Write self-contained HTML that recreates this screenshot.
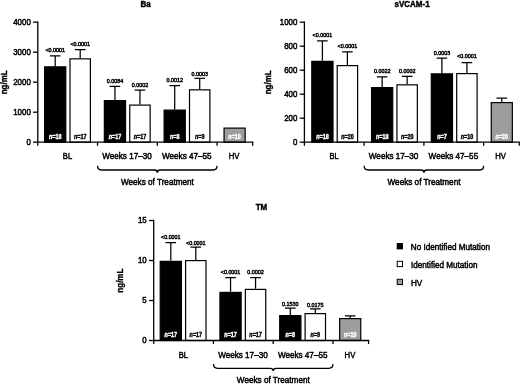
<!DOCTYPE html>
<html lang="en"><head><meta charset="utf-8"><title>Figure</title>
<style>
html,body{margin:0;padding:0;background:#fff;}
body{width:520px;height:384px;overflow:hidden;}
svg{display:block;font-family:"Liberation Sans",Arial,Helvetica,sans-serif;}
</style></head><body>
<svg width="520" height="384" viewBox="0 0 520 384">
<rect width="520" height="384" fill="#fff"/>
<path d="M55.20 66.25V55.75M49.90 55.75H60.50" stroke="#000" stroke-width="1.25" fill="none"/>
<rect x="44.60" y="66.85" width="21.20" height="75.35" fill="#000" stroke="#000" stroke-width="1.2"/>
<text transform="translate(55.20,138.60) scale(0.86,1)" font-size="6.3" text-anchor="middle" font-weight="bold" fill="#fff" stroke="#fff" stroke-width="0.4"><tspan font-style="italic">n</tspan>=18</text>
<text transform="translate(55.20,52.25) scale(0.9,1)" font-size="6.0" text-anchor="middle" font-weight="normal" fill="#000" stroke="#000" stroke-width="0.45">&lt;0.0001</text>
<path d="M80.20 58.25V49.50M74.90 49.50H85.50" stroke="#000" stroke-width="1.25" fill="none"/>
<rect x="70.00" y="58.85" width="20.40" height="83.35" fill="#fff" stroke="#000" stroke-width="1.2"/>
<text transform="translate(80.20,138.60) scale(0.86,1)" font-size="6.3" text-anchor="middle" font-weight="bold" fill="#000" stroke="#000" stroke-width="0.4"><tspan font-style="italic">n</tspan>=17</text>
<text transform="translate(80.20,46.00) scale(0.9,1)" font-size="6.0" text-anchor="middle" font-weight="normal" fill="#000" stroke="#000" stroke-width="0.45">&lt;0.0001</text>
<path d="M114.95 100.00V86.25M109.65 86.25H120.25" stroke="#000" stroke-width="1.25" fill="none"/>
<rect x="104.35" y="100.60" width="21.20" height="41.60" fill="#000" stroke="#000" stroke-width="1.2"/>
<text transform="translate(114.95,138.60) scale(0.86,1)" font-size="6.3" text-anchor="middle" font-weight="bold" fill="#fff" stroke="#fff" stroke-width="0.4"><tspan font-style="italic">n</tspan>=17</text>
<text transform="translate(114.95,82.75) scale(0.9,1)" font-size="6.0" text-anchor="middle" font-weight="normal" fill="#000" stroke="#000" stroke-width="0.45">0.0084</text>
<path d="M139.95 104.50V90.00M134.65 90.00H145.25" stroke="#000" stroke-width="1.25" fill="none"/>
<rect x="129.75" y="105.10" width="20.40" height="37.10" fill="#fff" stroke="#000" stroke-width="1.2"/>
<text transform="translate(139.95,138.60) scale(0.86,1)" font-size="6.3" text-anchor="middle" font-weight="bold" fill="#000" stroke="#000" stroke-width="0.4"><tspan font-style="italic">n</tspan>=17</text>
<text transform="translate(139.95,86.70) scale(0.9,1)" font-size="6.0" text-anchor="middle" font-weight="normal" fill="#000" stroke="#000" stroke-width="0.45">0.0002</text>
<path d="M174.70 109.50V85.50M169.40 85.50H180.00" stroke="#000" stroke-width="1.25" fill="none"/>
<rect x="164.10" y="110.10" width="21.20" height="32.10" fill="#000" stroke="#000" stroke-width="1.2"/>
<text transform="translate(174.70,138.60) scale(0.86,1)" font-size="6.3" text-anchor="middle" font-weight="bold" fill="#fff" stroke="#fff" stroke-width="0.4"><tspan font-style="italic">n</tspan>=8</text>
<text transform="translate(174.70,82.00) scale(0.9,1)" font-size="6.0" text-anchor="middle" font-weight="normal" fill="#000" stroke="#000" stroke-width="0.45">0.0012</text>
<path d="M199.70 89.25V78.25M194.40 78.25H205.00" stroke="#000" stroke-width="1.25" fill="none"/>
<rect x="189.50" y="89.85" width="20.40" height="52.35" fill="#fff" stroke="#000" stroke-width="1.2"/>
<text transform="translate(199.70,138.60) scale(0.86,1)" font-size="6.3" text-anchor="middle" font-weight="bold" fill="#000" stroke="#000" stroke-width="0.4"><tspan font-style="italic">n</tspan>=9</text>
<text transform="translate(199.70,75.55) scale(0.9,1)" font-size="6.0" text-anchor="middle" font-weight="normal" fill="#000" stroke="#000" stroke-width="0.45">0.0003</text>
<rect x="224.05" y="128.10" width="21.10" height="14.10" fill="#9d9d9d" stroke="#000" stroke-width="1.2"/>
<text transform="translate(234.60,138.60) scale(0.86,1)" font-size="6.3" text-anchor="middle" font-weight="bold" fill="#fff" stroke="#fff" stroke-width="0.4"><tspan font-style="italic">n</tspan>=10</text>
<path d="M37.80 21.55V142.20H253.30" stroke="#000" stroke-width="1.3" fill="none"/>
<path d="M33.10 142.20H37.80" stroke="#000" stroke-width="1.3"/>
<text transform="translate(30.80,144.80) scale(0.86,1)" font-size="9.2" text-anchor="end" font-weight="normal" fill="#000" stroke="#000" stroke-width="0.5">0</text>
<path d="M33.10 112.20H37.80" stroke="#000" stroke-width="1.3"/>
<text transform="translate(30.80,114.80) scale(0.86,1)" font-size="9.2" text-anchor="end" font-weight="normal" fill="#000" stroke="#000" stroke-width="0.5">1000</text>
<path d="M33.10 82.20H37.80" stroke="#000" stroke-width="1.3"/>
<text transform="translate(30.80,84.80) scale(0.86,1)" font-size="9.2" text-anchor="end" font-weight="normal" fill="#000" stroke="#000" stroke-width="0.5">2000</text>
<path d="M33.10 52.20H37.80" stroke="#000" stroke-width="1.3"/>
<text transform="translate(30.80,54.80) scale(0.86,1)" font-size="9.2" text-anchor="end" font-weight="normal" fill="#000" stroke="#000" stroke-width="0.5">3000</text>
<path d="M33.10 22.20H37.80" stroke="#000" stroke-width="1.3"/>
<text transform="translate(30.80,24.80) scale(0.86,1)" font-size="9.2" text-anchor="end" font-weight="normal" fill="#000" stroke="#000" stroke-width="0.5">4000</text>
<path d="M37.80 142.20V145.80" stroke="#000" stroke-width="1.3"/>
<path d="M97.55 142.20V145.80" stroke="#000" stroke-width="1.3"/>
<path d="M157.30 142.20V145.80" stroke="#000" stroke-width="1.3"/>
<path d="M217.05 142.20V145.80" stroke="#000" stroke-width="1.3"/>
<path d="M252.65 142.20V145.80" stroke="#000" stroke-width="1.3"/>
<text transform="translate(67.47,159.40) scale(0.82,1)" font-size="9.2" text-anchor="middle" font-weight="normal" fill="#000" stroke="#000" stroke-width="0.5">BL</text>
<text transform="translate(127.02,159.40) scale(0.885,1)" font-size="9.2" text-anchor="middle" font-weight="normal" fill="#000" stroke="#000" stroke-width="0.5">Weeks 17–30</text>
<text transform="translate(186.78,159.40) scale(0.885,1)" font-size="9.2" text-anchor="middle" font-weight="normal" fill="#000" stroke="#000" stroke-width="0.5">Weeks 47–55</text>
<text transform="translate(234.05,159.40) scale(0.84,1)" font-size="9.2" text-anchor="middle" font-weight="normal" fill="#000" stroke="#000" stroke-width="0.5">HV</text>
<path d="M97.55 165.80Q97.55 170.00 101.55 170.00H154.30Q157.30 170.00 157.30 172.80Q157.30 170.00 160.30 170.00H213.05Q217.05 170.00 217.05 165.80" stroke="#000" stroke-width="1.3" fill="none"/>
<text transform="translate(157.40,184.80) scale(0.89,1)" font-size="9.2" text-anchor="middle" font-weight="normal" fill="#000" stroke="#000" stroke-width="0.5">Weeks of Treatment</text>
<text transform="translate(6.70,82.35) rotate(-90) scale(0.85,1)" font-size="9.4" text-anchor="middle" font-weight="bold" fill="#000" stroke="#000" stroke-width="0.35">ng/mL</text>
<text transform="translate(145.50,7.20) scale(0.86,1)" font-size="9.3" text-anchor="middle" font-weight="bold" fill="#000" stroke="#000" stroke-width="0.45">Ba</text>
<path d="M322.40 60.75V40.75M317.10 40.75H327.70" stroke="#000" stroke-width="1.25" fill="none"/>
<rect x="311.80" y="61.35" width="21.20" height="80.85" fill="#000" stroke="#000" stroke-width="1.2"/>
<text transform="translate(322.40,138.60) scale(0.86,1)" font-size="6.3" text-anchor="middle" font-weight="bold" fill="#fff" stroke="#fff" stroke-width="0.4"><tspan font-style="italic">n</tspan>=18</text>
<text transform="translate(322.40,36.85) scale(0.9,1)" font-size="6.0" text-anchor="middle" font-weight="normal" fill="#000" stroke="#000" stroke-width="0.45">&lt;0.0001</text>
<path d="M347.40 65.00V51.75M342.10 51.75H352.70" stroke="#000" stroke-width="1.25" fill="none"/>
<rect x="337.20" y="65.60" width="20.40" height="76.60" fill="#fff" stroke="#000" stroke-width="1.2"/>
<text transform="translate(347.40,138.60) scale(0.86,1)" font-size="6.3" text-anchor="middle" font-weight="bold" fill="#000" stroke="#000" stroke-width="0.4"><tspan font-style="italic">n</tspan>=20</text>
<text transform="translate(347.40,48.25) scale(0.9,1)" font-size="6.0" text-anchor="middle" font-weight="normal" fill="#000" stroke="#000" stroke-width="0.45">&lt;0.0001</text>
<path d="M382.15 87.00V76.75M376.85 76.75H387.45" stroke="#000" stroke-width="1.25" fill="none"/>
<rect x="371.55" y="87.60" width="21.20" height="54.60" fill="#000" stroke="#000" stroke-width="1.2"/>
<text transform="translate(382.15,138.60) scale(0.86,1)" font-size="6.3" text-anchor="middle" font-weight="bold" fill="#fff" stroke="#fff" stroke-width="0.4"><tspan font-style="italic">n</tspan>=18</text>
<text transform="translate(382.15,73.25) scale(0.9,1)" font-size="6.0" text-anchor="middle" font-weight="normal" fill="#000" stroke="#000" stroke-width="0.45">0.0022</text>
<path d="M407.15 84.25V76.25M401.85 76.25H412.45" stroke="#000" stroke-width="1.25" fill="none"/>
<rect x="396.95" y="84.85" width="20.40" height="57.35" fill="#fff" stroke="#000" stroke-width="1.2"/>
<text transform="translate(407.15,138.60) scale(0.86,1)" font-size="6.3" text-anchor="middle" font-weight="bold" fill="#000" stroke="#000" stroke-width="0.4"><tspan font-style="italic">n</tspan>=20</text>
<text transform="translate(407.15,72.75) scale(0.9,1)" font-size="6.0" text-anchor="middle" font-weight="normal" fill="#000" stroke="#000" stroke-width="0.45">0.0002</text>
<path d="M441.90 73.25V58.00M436.60 58.00H447.20" stroke="#000" stroke-width="1.25" fill="none"/>
<rect x="431.30" y="73.85" width="21.20" height="68.35" fill="#000" stroke="#000" stroke-width="1.2"/>
<text transform="translate(441.90,138.60) scale(0.86,1)" font-size="6.3" text-anchor="middle" font-weight="bold" fill="#fff" stroke="#fff" stroke-width="0.4"><tspan font-style="italic">n</tspan>=7</text>
<text transform="translate(441.90,54.50) scale(0.9,1)" font-size="6.0" text-anchor="middle" font-weight="normal" fill="#000" stroke="#000" stroke-width="0.45">0.0003</text>
<path d="M466.90 73.00V62.50M461.60 62.50H472.20" stroke="#000" stroke-width="1.25" fill="none"/>
<rect x="456.70" y="73.60" width="20.40" height="68.60" fill="#fff" stroke="#000" stroke-width="1.2"/>
<text transform="translate(466.90,138.60) scale(0.86,1)" font-size="6.3" text-anchor="middle" font-weight="bold" fill="#000" stroke="#000" stroke-width="0.4"><tspan font-style="italic">n</tspan>=10</text>
<text transform="translate(466.90,58.40) scale(0.9,1)" font-size="6.0" text-anchor="middle" font-weight="normal" fill="#000" stroke="#000" stroke-width="0.45">&lt;0.0001</text>
<path d="M501.80 102.00V98.00M496.50 98.00H507.10" stroke="#000" stroke-width="1.25" fill="none"/>
<rect x="491.25" y="102.60" width="21.10" height="39.60" fill="#9d9d9d" stroke="#000" stroke-width="1.2"/>
<text transform="translate(501.80,138.60) scale(0.86,1)" font-size="6.3" text-anchor="middle" font-weight="bold" fill="#fff" stroke="#fff" stroke-width="0.4"><tspan font-style="italic">n</tspan>=20</text>
<path d="M304.40 21.55V142.20H519.90" stroke="#000" stroke-width="1.3" fill="none"/>
<path d="M299.70 142.20H304.40" stroke="#000" stroke-width="1.3"/>
<text transform="translate(297.40,144.80) scale(0.86,1)" font-size="9.2" text-anchor="end" font-weight="normal" fill="#000" stroke="#000" stroke-width="0.5">0</text>
<path d="M299.70 118.20H304.40" stroke="#000" stroke-width="1.3"/>
<text transform="translate(297.40,120.80) scale(0.86,1)" font-size="9.2" text-anchor="end" font-weight="normal" fill="#000" stroke="#000" stroke-width="0.5">200</text>
<path d="M299.70 94.20H304.40" stroke="#000" stroke-width="1.3"/>
<text transform="translate(297.40,96.80) scale(0.86,1)" font-size="9.2" text-anchor="end" font-weight="normal" fill="#000" stroke="#000" stroke-width="0.5">400</text>
<path d="M299.70 70.20H304.40" stroke="#000" stroke-width="1.3"/>
<text transform="translate(297.40,72.80) scale(0.86,1)" font-size="9.2" text-anchor="end" font-weight="normal" fill="#000" stroke="#000" stroke-width="0.5">600</text>
<path d="M299.70 46.20H304.40" stroke="#000" stroke-width="1.3"/>
<text transform="translate(297.40,48.80) scale(0.86,1)" font-size="9.2" text-anchor="end" font-weight="normal" fill="#000" stroke="#000" stroke-width="0.5">800</text>
<path d="M299.70 22.20H304.40" stroke="#000" stroke-width="1.3"/>
<text transform="translate(297.40,24.80) scale(0.86,1)" font-size="9.2" text-anchor="end" font-weight="normal" fill="#000" stroke="#000" stroke-width="0.5">1000</text>
<path d="M304.40 142.20V145.80" stroke="#000" stroke-width="1.3"/>
<path d="M364.15 142.20V145.80" stroke="#000" stroke-width="1.3"/>
<path d="M423.90 142.20V145.80" stroke="#000" stroke-width="1.3"/>
<path d="M483.65 142.20V145.80" stroke="#000" stroke-width="1.3"/>
<path d="M519.25 142.20V145.80" stroke="#000" stroke-width="1.3"/>
<text transform="translate(334.07,159.40) scale(0.82,1)" font-size="9.2" text-anchor="middle" font-weight="normal" fill="#000" stroke="#000" stroke-width="0.5">BL</text>
<text transform="translate(393.62,159.40) scale(0.885,1)" font-size="9.2" text-anchor="middle" font-weight="normal" fill="#000" stroke="#000" stroke-width="0.5">Weeks 17–30</text>
<text transform="translate(453.38,159.40) scale(0.885,1)" font-size="9.2" text-anchor="middle" font-weight="normal" fill="#000" stroke="#000" stroke-width="0.5">Weeks 47–55</text>
<text transform="translate(500.65,159.40) scale(0.84,1)" font-size="9.2" text-anchor="middle" font-weight="normal" fill="#000" stroke="#000" stroke-width="0.5">HV</text>
<path d="M364.15 165.80Q364.15 170.00 368.15 170.00H420.90Q423.90 170.00 423.90 172.80Q423.90 170.00 426.90 170.00H479.65Q483.65 170.00 483.65 165.80" stroke="#000" stroke-width="1.3" fill="none"/>
<text transform="translate(424.00,184.80) scale(0.89,1)" font-size="9.2" text-anchor="middle" font-weight="normal" fill="#000" stroke="#000" stroke-width="0.5">Weeks of Treatment</text>
<text transform="translate(270.80,82.35) rotate(-90) scale(0.85,1)" font-size="9.4" text-anchor="middle" font-weight="bold" fill="#000" stroke="#000" stroke-width="0.35">ng/mL</text>
<text transform="translate(412.10,7.20) scale(0.86,1)" font-size="9.3" text-anchor="middle" font-weight="bold" fill="#000" stroke="#000" stroke-width="0.45">sVCAM-1</text>
<path d="M170.80 260.75V242.50M165.50 242.50H176.10" stroke="#000" stroke-width="1.25" fill="none"/>
<rect x="160.20" y="261.35" width="21.20" height="79.15" fill="#000" stroke="#000" stroke-width="1.2"/>
<text transform="translate(170.80,336.90) scale(0.86,1)" font-size="6.3" text-anchor="middle" font-weight="bold" fill="#fff" stroke="#fff" stroke-width="0.4"><tspan font-style="italic">n</tspan>=17</text>
<text transform="translate(170.80,239.00) scale(0.9,1)" font-size="6.0" text-anchor="middle" font-weight="normal" fill="#000" stroke="#000" stroke-width="0.45">&lt;0.0001</text>
<path d="M195.80 260.00V247.00M190.50 247.00H201.10" stroke="#000" stroke-width="1.25" fill="none"/>
<rect x="185.60" y="260.60" width="20.40" height="79.90" fill="#fff" stroke="#000" stroke-width="1.2"/>
<text transform="translate(195.80,336.90) scale(0.86,1)" font-size="6.3" text-anchor="middle" font-weight="bold" fill="#000" stroke="#000" stroke-width="0.4"><tspan font-style="italic">n</tspan>=17</text>
<text transform="translate(195.80,244.70) scale(0.9,1)" font-size="6.0" text-anchor="middle" font-weight="normal" fill="#000" stroke="#000" stroke-width="0.45">&lt;0.0001</text>
<path d="M230.55 291.80V277.50M225.25 277.50H235.85" stroke="#000" stroke-width="1.25" fill="none"/>
<rect x="219.95" y="292.40" width="21.20" height="48.10" fill="#000" stroke="#000" stroke-width="1.2"/>
<text transform="translate(230.55,336.90) scale(0.86,1)" font-size="6.3" text-anchor="middle" font-weight="bold" fill="#fff" stroke="#fff" stroke-width="0.4"><tspan font-style="italic">n</tspan>=17</text>
<text transform="translate(230.55,274.00) scale(0.9,1)" font-size="6.0" text-anchor="middle" font-weight="normal" fill="#000" stroke="#000" stroke-width="0.45">&lt;0.0001</text>
<path d="M255.55 288.80V277.50M250.25 277.50H260.85" stroke="#000" stroke-width="1.25" fill="none"/>
<rect x="245.35" y="289.40" width="20.40" height="51.10" fill="#fff" stroke="#000" stroke-width="1.2"/>
<text transform="translate(255.55,336.90) scale(0.86,1)" font-size="6.3" text-anchor="middle" font-weight="bold" fill="#000" stroke="#000" stroke-width="0.4"><tspan font-style="italic">n</tspan>=17</text>
<text transform="translate(255.55,274.00) scale(0.9,1)" font-size="6.0" text-anchor="middle" font-weight="normal" fill="#000" stroke="#000" stroke-width="0.45">0.0002</text>
<path d="M290.30 315.00V308.00M285.00 308.00H295.60" stroke="#000" stroke-width="1.25" fill="none"/>
<rect x="279.70" y="315.60" width="21.20" height="24.90" fill="#000" stroke="#000" stroke-width="1.2"/>
<text transform="translate(290.30,336.90) scale(0.86,1)" font-size="6.3" text-anchor="middle" font-weight="bold" fill="#fff" stroke="#fff" stroke-width="0.4"><tspan font-style="italic">n</tspan>=8</text>
<text transform="translate(290.30,305.60) scale(0.9,1)" font-size="6.0" text-anchor="middle" font-weight="normal" fill="#000" stroke="#000" stroke-width="0.45">0.1530</text>
<path d="M315.30 313.00V308.75M310.00 308.75H320.60" stroke="#000" stroke-width="1.25" fill="none"/>
<rect x="305.10" y="313.60" width="20.40" height="26.90" fill="#fff" stroke="#000" stroke-width="1.2"/>
<text transform="translate(315.30,336.90) scale(0.86,1)" font-size="6.3" text-anchor="middle" font-weight="bold" fill="#000" stroke="#000" stroke-width="0.4"><tspan font-style="italic">n</tspan>=9</text>
<text transform="translate(315.30,307.35) scale(0.9,1)" font-size="6.0" text-anchor="middle" font-weight="normal" fill="#000" stroke="#000" stroke-width="0.45">0.0175</text>
<path d="M350.20 318.00V315.75M344.90 315.75H355.50" stroke="#000" stroke-width="1.25" fill="none"/>
<rect x="339.65" y="318.60" width="21.10" height="21.90" fill="#9d9d9d" stroke="#000" stroke-width="1.2"/>
<text transform="translate(350.20,336.90) scale(0.86,1)" font-size="6.3" text-anchor="middle" font-weight="bold" fill="#fff" stroke="#fff" stroke-width="0.4"><tspan font-style="italic">n</tspan>=10</text>
<path d="M153.70 219.85V340.50H369.20" stroke="#000" stroke-width="1.3" fill="none"/>
<path d="M149.00 340.50H153.70" stroke="#000" stroke-width="1.3"/>
<text transform="translate(146.70,343.10) scale(0.86,1)" font-size="9.2" text-anchor="end" font-weight="normal" fill="#000" stroke="#000" stroke-width="0.5">0</text>
<path d="M149.00 300.50H153.70" stroke="#000" stroke-width="1.3"/>
<text transform="translate(146.70,303.10) scale(0.86,1)" font-size="9.2" text-anchor="end" font-weight="normal" fill="#000" stroke="#000" stroke-width="0.5">5</text>
<path d="M149.00 260.50H153.70" stroke="#000" stroke-width="1.3"/>
<text transform="translate(146.70,263.10) scale(0.86,1)" font-size="9.2" text-anchor="end" font-weight="normal" fill="#000" stroke="#000" stroke-width="0.5">10</text>
<path d="M149.00 220.50H153.70" stroke="#000" stroke-width="1.3"/>
<text transform="translate(146.70,223.10) scale(0.86,1)" font-size="9.2" text-anchor="end" font-weight="normal" fill="#000" stroke="#000" stroke-width="0.5">15</text>
<path d="M153.70 340.50V344.10" stroke="#000" stroke-width="1.3"/>
<path d="M213.45 340.50V344.10" stroke="#000" stroke-width="1.3"/>
<path d="M273.20 340.50V344.10" stroke="#000" stroke-width="1.3"/>
<path d="M332.95 340.50V344.10" stroke="#000" stroke-width="1.3"/>
<path d="M368.55 340.50V344.10" stroke="#000" stroke-width="1.3"/>
<text transform="translate(183.38,357.70) scale(0.82,1)" font-size="9.2" text-anchor="middle" font-weight="normal" fill="#000" stroke="#000" stroke-width="0.5">BL</text>
<text transform="translate(242.92,357.70) scale(0.885,1)" font-size="9.2" text-anchor="middle" font-weight="normal" fill="#000" stroke="#000" stroke-width="0.5">Weeks 17–30</text>
<text transform="translate(302.68,357.70) scale(0.885,1)" font-size="9.2" text-anchor="middle" font-weight="normal" fill="#000" stroke="#000" stroke-width="0.5">Weeks 47–55</text>
<text transform="translate(349.95,357.70) scale(0.84,1)" font-size="9.2" text-anchor="middle" font-weight="normal" fill="#000" stroke="#000" stroke-width="0.5">HV</text>
<path d="M213.45 364.10Q213.45 368.30 217.45 368.30H270.20Q273.20 368.30 273.20 371.10Q273.20 368.30 276.20 368.30H328.95Q332.95 368.30 332.95 364.10" stroke="#000" stroke-width="1.3" fill="none"/>
<text transform="translate(273.30,383.10) scale(0.89,1)" font-size="9.2" text-anchor="middle" font-weight="normal" fill="#000" stroke="#000" stroke-width="0.5">Weeks of Treatment</text>
<text transform="translate(122.60,280.65) rotate(-90) scale(0.85,1)" font-size="9.4" text-anchor="middle" font-weight="bold" fill="#000" stroke="#000" stroke-width="0.35">ng/mL</text>
<text transform="translate(261.40,210.30) scale(0.86,1)" font-size="9.3" text-anchor="middle" font-weight="bold" fill="#000" stroke="#000" stroke-width="0.45">TM</text>
<rect x="396.7" y="243.1" width="6.3" height="6.3" fill="#000"/>
<rect x="397.2" y="261.3" width="5.3" height="5.3" fill="#fff" stroke="#000" stroke-width="1"/>
<rect x="397.2" y="279.3" width="5.3" height="5.3" fill="#9d9d9d" stroke="#000" stroke-width="1"/>
<text transform="translate(410.80,249.60) scale(0.867,1)" font-size="9.4" text-anchor="start" font-weight="normal" fill="#000" stroke="#000" stroke-width="0.5">No Identified Mutation</text>
<text transform="translate(411.00,267.60) scale(0.867,1)" font-size="9.4" text-anchor="start" font-weight="normal" fill="#000" stroke="#000" stroke-width="0.5">Identified Mutation</text>
<text transform="translate(411.00,285.70) scale(0.867,1)" font-size="9.4" text-anchor="start" font-weight="normal" fill="#000" stroke="#000" stroke-width="0.5">HV</text>
</svg>
</body></html>
